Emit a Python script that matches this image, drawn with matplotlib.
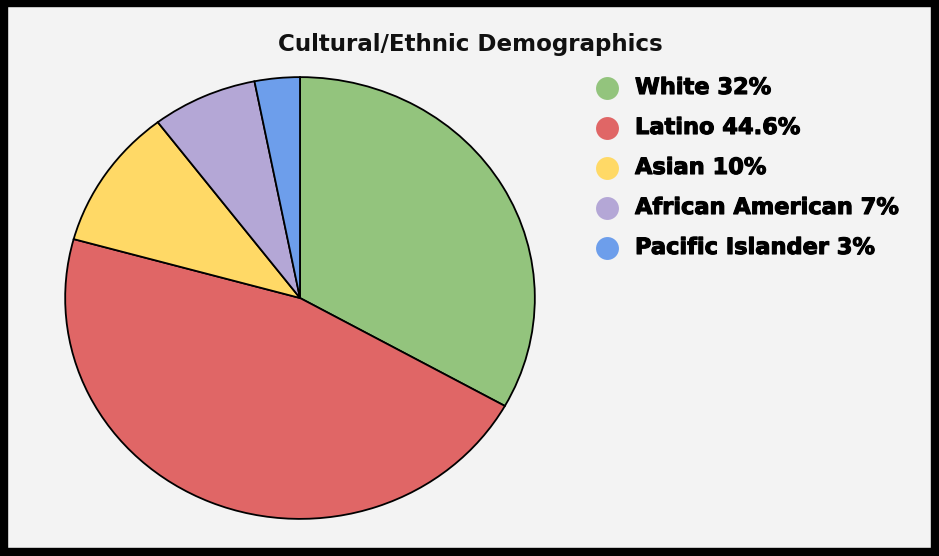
import matplotlib
matplotlib.use('Agg')
import matplotlib.pyplot as plt
import matplotlib.patheffects as pe
from matplotlib.patches import Rectangle

# Chart data
labels = ['White', 'Latino', 'Asian', 'African American', 'Pacific Islander']
values = [32, 44.6, 10, 7, 3]
legend_texts = ['White 32%', 'Latino 44.6%', 'Asian 10%', 'African American 7%', 'Pacific Islander 3%']
colors = ['#93c47d', '#e06666', '#ffd966', '#b4a7d6', '#6d9eeb']
title = 'Cultural/Ethnic Demographics'

W, H = 939, 556
fig = plt.figure(figsize=(W / 100, H / 100), dpi=100)
fig.patch.set_facecolor('#f3f3f3')

# Pie axes (slightly elliptical like the reference)
px_l, px_r, px_t, px_b = 64, 536, 76, 520
ax = fig.add_axes([px_l / W, (H - px_b) / H, (px_r - px_l) / W, (px_b - px_t) / H])
ax.pie(values, colors=colors, startangle=90, counterclock=False,
       wedgeprops={'edgecolor': 'black', 'linewidth': 1.3})
ax.set_aspect('auto')
ax.set_xlim(-1.005, 1.005)
ax.set_ylim(-1.005, 1.005)
ax.axis('off')

# Overlay axes in pixel coords for title, legend and frame
ov = fig.add_axes([0, 0, 1, 1], facecolor='none')
ov.set_xlim(0, W)
ov.set_ylim(H, 0)
ov.axis('off')

ov.text(470, 45, title, fontsize=16.6, fontweight='bold', family='DejaVu Sans',
        ha='center', va='center', color='#111111')

thick = [pe.withStroke(linewidth=0.8, foreground='black')]
for i, (txt, col) in enumerate(zip(legend_texts, colors)):
    y = 88 + 40 * i
    ov.plot(607, y, 'o', color=col, markersize=16.5, markeredgewidth=0)
    ov.text(635, y, txt, fontsize=16.2, fontweight='bold', family='DejaVu Sans',
            ha='left', va='center', color='black', path_effects=thick)

# Thick black frame
ov.add_patch(Rectangle((0, 0), 7, H, color='black'))
ov.add_patch(Rectangle((0, 0), W, 6, color='black'))
ov.add_patch(Rectangle((931, 0), 8, H, color='black'))
ov.add_patch(Rectangle((0, 548), W, 8, color='black'))

fig.savefig('out.png', dpi=100, facecolor=fig.get_facecolor())
